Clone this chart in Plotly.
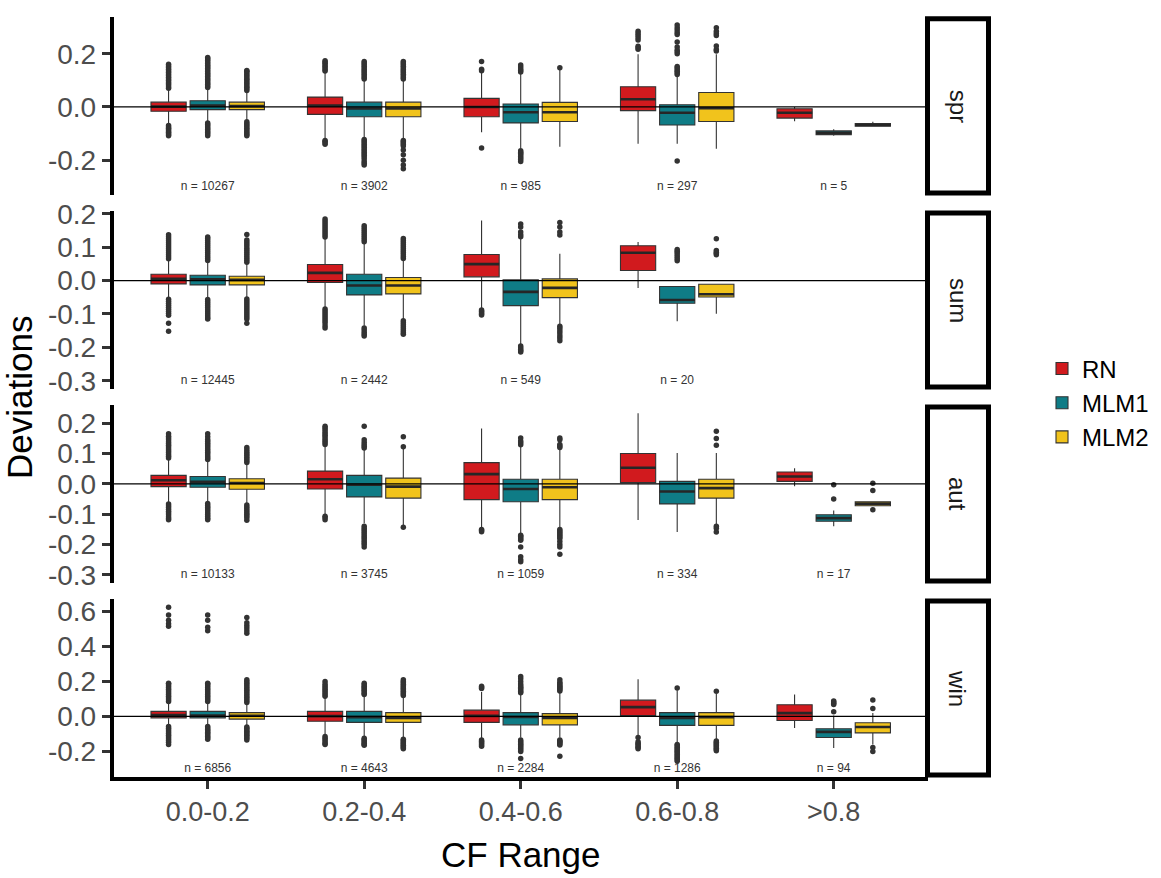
import plotly.graph_objects as go

# ---- categories -------------------------------------------------------------
CF_RANGES = ["0.0-0.2", "0.2-0.4", "0.4-0.6", "0.6-0.8", ">0.8"]
SEASONS = ["spr", "sum", "aut", "win"]
MODELS = ["RN", "MLM1", "MLM2"]
COLORS = ["#D11A1E", "#0F7C86", "#F1C31C"]

# ---- sample sizes per CF range -----------------------------------------------
N_SPR = [10267, 3902, 985, 297, 5]
N_SUM = [12445, 2442, 549, 20]
N_AUT = [10133, 3745, 1059, 334, 17]
N_WIN = [6856, 4643, 2284, 1286, 94]

# ---- box statistics (rows: RN, MLM1, MLM2) ----------------------------------
SPR_Q1 = [[-0.016, -0.028, -0.037, -0.014, -0.042],
          [-0.010, -0.037, -0.060, -0.068, -0.104],
          [-0.010, -0.037, -0.055, -0.055, -0.072]]
SPR_MED = [[0.001, 0.005, 0.000, 0.029, -0.022],
           [0.005, -0.006, -0.020, -0.022, -0.097],
           [0.003, -0.006, -0.020, -0.005, -0.068]]
SPR_Q3 = [[0.018, 0.037, 0.032, 0.076, -0.007],
          [0.023, 0.018, 0.011, 0.008, -0.090],
          [0.018, 0.018, 0.017, 0.054, -0.062]]
SPR_LO = [[-0.066, -0.120, -0.095, -0.138, -0.054],
          [-0.058, -0.115, -0.155, -0.138, -0.108],
          [-0.050, -0.118, -0.150, -0.157, -0.072]]
SPR_HI = [[0.068, 0.130, 0.131, 0.198, 0.000],
          [0.070, 0.100, 0.125, 0.119, -0.084],
          [0.060, 0.100, 0.143, 0.198, -0.056]]

SUM_Q1 = [[-0.010, -0.006, 0.011, 0.030],
          [-0.013, -0.043, -0.075, -0.068],
          [-0.013, -0.040, -0.051, -0.049]]
SUM_MED = [[0.005, 0.023, 0.049, 0.083],
           [0.004, -0.015, -0.034, -0.058],
           [0.002, -0.015, -0.022, -0.041]]
SUM_Q3 = [[0.019, 0.048, 0.078, 0.104],
          [0.016, 0.019, 0.002, -0.018],
          [0.013, 0.009, 0.005, -0.011]]
SUM_LO = [[-0.053, -0.080, -0.085, -0.022],
          [-0.055, -0.135, -0.190, -0.122],
          [-0.052, -0.115, -0.133, -0.099]]
SUM_HI = [[0.062, 0.125, 0.180, 0.115],
          [0.058, 0.110, 0.128, -0.018],
          [0.052, 0.060, 0.080, -0.011]]

AUT_Q1 = [[-0.009, -0.017, -0.052, 0.004, 0.008],
          [-0.011, -0.043, -0.059, -0.066, -0.123],
          [-0.018, -0.047, -0.052, -0.047, -0.072]]
AUT_MED = [[0.012, 0.015, 0.032, 0.053, 0.024],
           [0.007, -0.003, -0.017, -0.025, -0.113],
           [0.003, -0.009, -0.011, -0.014, -0.065]]
AUT_Q3 = [[0.028, 0.042, 0.070, 0.100, 0.039],
          [0.024, 0.028, 0.015, 0.008, -0.102],
          [0.017, 0.019, 0.015, 0.015, -0.059]]
AUT_LO = [[-0.062, -0.104, -0.145, -0.119, -0.008],
          [-0.062, -0.130, -0.163, -0.159, -0.140],
          [-0.068, -0.140, -0.148, -0.137, -0.072]]
AUT_HI = [[0.080, 0.128, 0.182, 0.233, 0.051],
          [0.076, 0.115, 0.128, 0.102, -0.088],
          [0.068, 0.118, 0.115, 0.102, -0.059]]

WIN_Q1 = [[-0.008, -0.027, -0.034, 0.005, -0.023],
          [-0.008, -0.034, -0.048, -0.051, -0.120],
          [-0.015, -0.034, -0.048, -0.051, -0.094]]
WIN_MED = [[0.008, 0.002, 0.003, 0.053, 0.019],
           [0.005, -0.004, -0.003, -0.008, -0.088],
           [0.004, -0.008, -0.008, -0.004, -0.060]]
WIN_Q3 = [[0.029, 0.029, 0.036, 0.093, 0.067],
          [0.029, 0.029, 0.022, 0.022, -0.070],
          [0.022, 0.022, 0.016, 0.022, -0.036]]
WIN_LO = [[-0.050, -0.110, -0.130, -0.110, -0.066],
          [-0.050, -0.120, -0.120, -0.150, -0.180],
          [-0.055, -0.120, -0.120, -0.130, -0.160]]
WIN_HI = [[0.080, 0.110, 0.140, 0.213, 0.126],
          [0.080, 0.120, 0.130, 0.150, 0.005],
          [0.075, 0.110, 0.140, 0.130, 0.020]]

# ---- outlying observations, one list per CF range ---------------------------
SPR_OUT_RN = [
    [0.07, 0.076, 0.082, 0.088, 0.094, 0.1, 0.106, 0.112, 0.118, 0.124, 0.13, 0.136, 0.142, 0.148, 0.154, 0.16,
     -0.07, -0.075, -0.08, -0.085, -0.09, -0.095, -0.1, -0.105, -0.108],
    [0.135, 0.14, 0.146, 0.152, 0.158, 0.164, 0.169, 0.174, -0.126, -0.13, -0.135, -0.14],
    [0.136, 0.142, 0.171, -0.154],
    [0.217, 0.222, 0.228, 0.252, 0.26, 0.268, 0.276, 0.284],
    []]
SPR_OUT_MLM1 = [
    [0.073, 0.079, 0.085, 0.091, 0.097, 0.103, 0.109, 0.115, 0.121, 0.127, 0.133, 0.139, 0.145, 0.151, 0.157,
     0.163, 0.169, 0.175, 0.181, 0.186,
     -0.06, -0.066, -0.072, -0.078, -0.084, -0.09, -0.096, -0.102, -0.108],
    [0.105, 0.111, 0.117, 0.123, 0.129, 0.135, 0.141, 0.147, 0.153, 0.159, 0.165, 0.171,
     -0.122, -0.128, -0.134, -0.14, -0.146, -0.152, -0.158, -0.164, -0.17, -0.176, -0.182, -0.188, -0.196,
     -0.205, -0.212, -0.218],
    [0.131, 0.137, 0.143, 0.15, 0.158, -0.165, -0.17, -0.175, -0.18, -0.186, -0.192, -0.198, -0.205],
    [0.122, 0.128, 0.134, 0.14, 0.146, 0.152, 0.2, 0.207, 0.214, 0.225, 0.244, 0.272, 0.28, 0.289, 0.298,
     0.308, -0.203],
    []]
SPR_OUT_MLM2 = [
    [0.062, 0.068, 0.074, 0.08, 0.086, 0.092, 0.098, 0.104, 0.11, 0.116, 0.122, 0.128, 0.134, 0.137,
     -0.056, -0.062, -0.068, -0.074, -0.08, -0.086, -0.092, -0.098, -0.104, -0.108],
    [0.105, 0.111, 0.117, 0.123, 0.129, 0.135, 0.141, 0.147, 0.153, 0.159, 0.165, 0.171,
     -0.126, -0.131, -0.136, -0.141, -0.147, -0.162, -0.18, -0.2, -0.218, -0.232],
    [0.147],
    [0.21, 0.216, 0.229, 0.268, 0.276, 0.284, 0.298],
    []]

SUM_OUT_RN = [
    [0.065, 0.071, 0.077, 0.083, 0.089, 0.095, 0.101, 0.107, 0.113, 0.119, 0.125, 0.131, 0.137,
     -0.056, -0.062, -0.068, -0.074, -0.08, -0.086, -0.092, -0.098, -0.104, -0.128, -0.152],
    [0.13, 0.136, 0.142, 0.148, 0.154, 0.16, 0.166, 0.172, 0.178, 0.184,
     -0.085, -0.091, -0.097, -0.103, -0.109, -0.115, -0.121, -0.127, -0.135, -0.142],
    [-0.088, -0.092, -0.096, -0.1, -0.103],
    []]
SUM_OUT_MLM1 = [
    [0.06, 0.066, 0.072, 0.078, 0.084, 0.09, 0.096, 0.102, 0.108, 0.114, 0.12, 0.126, 0.13,
     -0.057, -0.063, -0.069, -0.075, -0.081, -0.087, -0.093, -0.099, -0.105, -0.111, -0.115],
    [0.116, 0.122, 0.128, 0.134, 0.14, 0.146, 0.152, 0.158, 0.164, -0.142, -0.148, -0.155, -0.161, -0.166],
    [0.131, 0.137, 0.145, 0.16, 0.169, -0.196, -0.201, -0.206, -0.21, -0.214],
    [0.059, 0.065, 0.071, 0.077, 0.083, 0.088, 0.093]]
SUM_OUT_MLM2 = [
    [0.055, 0.061, 0.067, 0.073, 0.079, 0.085, 0.091, 0.097, 0.103, 0.109, 0.115, 0.121, 0.138,
     -0.055, -0.061, -0.067, -0.073, -0.079, -0.085, -0.091, -0.097, -0.103, -0.109, -0.115, -0.128],
    [0.066, 0.072, 0.078, 0.084, 0.09, 0.096, 0.102, 0.108, 0.114, 0.12, 0.126,
     -0.12, -0.126, -0.132, -0.138, -0.144, -0.15, -0.156, -0.161],
    [0.136, 0.145, 0.16, 0.174, -0.137, -0.143, -0.15, -0.157, -0.165, -0.172, -0.18],
    [0.077, 0.081, 0.085, 0.09, 0.125]]

AUT_OUT_RN = [
    [0.085, 0.091, 0.097, 0.103, 0.109, 0.115, 0.121, 0.127, 0.133, 0.139, 0.145, 0.151, 0.157, 0.165,
     -0.066, -0.072, -0.078, -0.084, -0.09, -0.096, -0.102, -0.108, -0.114, -0.118],
    [0.13, 0.136, 0.142, 0.148, 0.154, 0.16, 0.166, 0.172, 0.178, 0.184, 0.19, -0.107, -0.112, -0.118],
    [-0.15, -0.154, -0.158],
    [],
    []]
AUT_OUT_MLM1 = [
    [0.08, 0.086, 0.092, 0.098, 0.104, 0.11, 0.116, 0.122, 0.128, 0.134, 0.14, 0.146, 0.155, 0.165,
     -0.065, -0.071, -0.077, -0.083, -0.089, -0.095, -0.101, -0.107, -0.113, -0.118],
    [0.118, 0.124, 0.13, 0.137, 0.145, 0.19,
     -0.14, -0.146, -0.152, -0.158, -0.164, -0.17, -0.176, -0.182, -0.188, -0.194, -0.2, -0.208],
    [0.129, 0.135, 0.141, 0.151, -0.169, -0.173, -0.178, -0.182, -0.186, -0.208, -0.24, -0.25, -0.257],
    [],
    [-0.003, -0.05]]
AUT_OUT_MLM2 = [
    [0.07, 0.076, 0.082, 0.088, 0.094, 0.1, 0.106, 0.112, 0.12,
     -0.07, -0.076, -0.082, -0.088, -0.094, -0.1, -0.106, -0.112, -0.12],
    [0.122, 0.155, -0.143],
    [0.12, 0.125, 0.13, 0.145, 0.151,
     -0.15, -0.155, -0.16, -0.165, -0.17, -0.175, -0.18, -0.19, -0.2, -0.208, -0.232],
    [0.127, 0.149, 0.173, -0.14, -0.146, -0.159],
    [0.002, -0.022, -0.085]]

WIN_OUT_RN = [
    [0.085, 0.095, 0.105, 0.115, 0.125, 0.135, 0.145, 0.155, 0.165, 0.175, 0.185, 0.19,
     0.515, 0.53, 0.55, 0.58, 0.624,
     -0.058, -0.068, -0.078, -0.088, -0.098, -0.108, -0.118, -0.128, -0.138, -0.148, -0.16],
    [0.115, 0.125, 0.135, 0.145, 0.155, 0.165, 0.175, 0.185, 0.2,
     -0.115, -0.125, -0.135, -0.145, -0.155, -0.16],
    [0.16, 0.165, 0.172, -0.135, -0.142, -0.149, -0.156, -0.163, -0.17],
    [-0.12, -0.145, -0.155, -0.16, -0.17, -0.178, -0.185],
    []]
WIN_OUT_MLM1 = [
    [0.085, 0.095, 0.105, 0.115, 0.125, 0.135, 0.145, 0.155, 0.165, 0.175, 0.185, 0.19,
     0.49, 0.51, 0.55, 0.58,
     -0.058, -0.066, -0.074, -0.082, -0.09, -0.098, -0.106, -0.114, -0.122, -0.13],
    [0.125, 0.133, 0.141, 0.149, 0.157, 0.165, 0.173, 0.181, 0.19,
     -0.125, -0.132, -0.139, -0.146, -0.153, -0.16, -0.165],
    [0.135, 0.143, 0.151, 0.159, 0.167, 0.175, 0.185, 0.2, 0.215, 0.228,
     -0.135, -0.143, -0.151, -0.159, -0.167, -0.175, -0.183, -0.191, -0.2, -0.24],
    [0.162, -0.16, -0.168, -0.176, -0.184, -0.192, -0.2, -0.208, -0.216, -0.224, -0.232, -0.24, -0.248, -0.256],
    [0.027, 0.068, 0.075, 0.082, 0.088]]
WIN_OUT_MLM2 = [
    [0.08, 0.09, 0.1, 0.11, 0.12, 0.13, 0.14, 0.15, 0.16, 0.17, 0.18, 0.19, 0.2, 0.21,
     0.475, 0.49, 0.505, 0.52, 0.535, 0.565,
     -0.06, -0.068, -0.076, -0.084, -0.092, -0.1, -0.108, -0.116, -0.124, -0.135],
    [0.12, 0.128, 0.136, 0.144, 0.152, 0.16, 0.168, 0.176, 0.184, 0.192, 0.2, 0.21,
     -0.13, -0.137, -0.144, -0.151, -0.158, -0.165, -0.172, -0.179, -0.185],
    [0.145, 0.152, 0.159, 0.166, 0.173, 0.18, 0.187, 0.195, 0.209,
     -0.135, -0.14, -0.145, -0.15, -0.158, -0.163, -0.227],
    [0.144, -0.14, -0.147, -0.154, -0.161, -0.168, -0.175, -0.182, -0.189, -0.196],
    [0.046, 0.094, -0.177, -0.2]]

# ---- y-axis ticks per panel --------------------------------------------------
SPR_TICKS = [-0.2, 0.0, 0.2]
SUM_TICKS = [-0.3, -0.2, -0.1, 0.0, 0.1, 0.2]
AUT_TICKS = [-0.3, -0.2, -0.1, 0.0, 0.1, 0.2]
WIN_TICKS = [-0.2, 0.0, 0.2, 0.4, 0.6]

N_LABEL_Y = -0.3  # height of the "n = ..." annotations in each panel

PANELS = [
    (N_SPR, SPR_Q1, SPR_MED, SPR_Q3, SPR_LO, SPR_HI, [SPR_OUT_RN, SPR_OUT_MLM1, SPR_OUT_MLM2], SPR_TICKS),
    (N_SUM, SUM_Q1, SUM_MED, SUM_Q3, SUM_LO, SUM_HI, [SUM_OUT_RN, SUM_OUT_MLM1, SUM_OUT_MLM2], SUM_TICKS),
    (N_AUT, AUT_Q1, AUT_MED, AUT_Q3, AUT_LO, AUT_HI, [AUT_OUT_RN, AUT_OUT_MLM1, AUT_OUT_MLM2], AUT_TICKS),
    (N_WIN, WIN_Q1, WIN_MED, WIN_Q3, WIN_LO, WIN_HI, [WIN_OUT_RN, WIN_OUT_MLM1, WIN_OUT_MLM2], WIN_TICKS),
]

# ---- page geometry (pixels) --------------------------------------------------
W, H = 1161, 878
PLOT_L, PLOT_R = 113.8, 927.6
PANEL_TOP, PANEL_H, PANEL_GAP = 5.0, 182.1, 16.5
STRIP_L, STRIP_R = 927.5, 988.5
DODGE, BOX_W = 0.25, 0.225
FONT = "Liberation Sans, Arial, sans-serif"
INK = "#333333"


def fmt(v):
    return f"{v:.1f}".replace("-0.0", "0.0")


fig = go.Figure()
shapes, annotations = [], []

for k, (n_counts, q1, med, q3, lo, hi, outs, ticks) in enumerate(PANELS):
    sfx = "" if k == 0 else str(k + 1)
    xa, ya = "x" + sfx, "y" + sfx
    ngroups = len(n_counts)
    all_vals = [N_LABEL_Y]

    for j, model in enumerate(MODELS):
        pos = [g + (j - 1) * DODGE for g in range(ngroups)]
        fig.add_trace(go.Box(
            x=pos, q1=q1[j], median=med[j], q3=q3[j],
            lowerfence=lo[j], upperfence=hi[j],
            width=BOX_W, whiskerwidth=0, boxpoints=False,
            fillcolor=COLORS[j], line=dict(color=INK, width=1.1),
            name=model, legendgroup=model, showlegend=(k == 0),
            xaxis=xa, yaxis=ya, hoverinfo="skip",
        ))
        # thicker median bar
        mx, my = [], []
        for p, m in zip(pos, med[j]):
            mx += [p - BOX_W / 2, p + BOX_W / 2, None]
            my += [m, m, None]
        fig.add_trace(go.Scatter(
            x=mx, y=my, mode="lines", line=dict(color="#262626", width=2.6),
            showlegend=False, xaxis=xa, yaxis=ya, hoverinfo="skip",
        ))
        # outliers
        ox, oy = [], []
        for p, pts in zip(pos, outs[j]):
            ox += [p] * len(pts)
            oy += pts
        fig.add_trace(go.Scatter(
            x=ox, y=oy, mode="markers",
            marker=dict(color=INK, size=5.5, line=dict(width=0)),
            showlegend=False, xaxis=xa, yaxis=ya, hoverinfo="skip",
        ))
        all_vals += lo[j] + hi[j] + [v for pts in outs[j] for v in pts]

    # sample size labels
    fig.add_trace(go.Scatter(
        x=list(range(ngroups)), y=[N_LABEL_Y] * ngroups, mode="text",
        text=[f"n = {n}" for n in n_counts],
        textfont=dict(family=FONT, size=12, color="#333333"),
        showlegend=False, xaxis=xa, yaxis=ya, hoverinfo="skip",
    ))

    vmin, vmax = min(all_vals), max(all_vals)
    pad = 0.05 * (vmax - vmin)

    top = PANEL_TOP + k * (PANEL_H + PANEL_GAP)
    bot = top + PANEL_H
    dom = [1 - bot / H, 1 - top / H]
    last = k == len(PANELS) - 1

    fig.layout["xaxis" + sfx] = dict(
        domain=[PLOT_L / W, PLOT_R / W], range=[-0.6, 4.6], anchor=ya,
        showgrid=False, zeroline=False,
        showline=last, linecolor="black", linewidth=4,
        tickmode="array", tickvals=list(range(len(CF_RANGES))), ticktext=CF_RANGES,
        showticklabels=last, ticks="outside" if last else "",
        ticklen=8, tickwidth=3, tickcolor=INK,
        tickfont=dict(family=FONT, size=27, color="#4D4D4D"),
        **({} if k == 0 else {"matches": "x"}),
    )
    fig.layout["yaxis" + sfx] = dict(
        domain=dom, range=[vmin - pad, vmax + pad], anchor=xa,
        showgrid=False, zeroline=False,
        showline=True, linecolor="black", linewidth=4,
        tickmode="array", tickvals=ticks, ticktext=[fmt(t) for t in ticks],
        ticks="outside", ticklen=8, tickwidth=3, tickcolor=INK,
        tickfont=dict(family=FONT, size=28, color="#4D4D4D"),
    )

    # reference line at zero
    shapes.append(dict(type="line", xref=xa + " domain", yref=ya, x0=0, x1=1, y0=0, y1=0,
                       line=dict(color="black", width=1.2), layer="above"))
    # facet strip
    shapes.append(dict(type="rect", xref="paper", yref="paper",
                       x0=STRIP_L / W, x1=STRIP_R / W, y0=dom[0] + 2 / H, y1=dom[1] - 2 / H,
                       line=dict(color="black", width=5), fillcolor="white", layer="above"))
    annotations.append(dict(text=SEASONS[k], xref="paper", yref="paper",
                            x=(STRIP_L + STRIP_R) / 2 / W, y=(dom[0] + dom[1]) / 2,
                            xanchor="center", yanchor="middle",
                            textangle=90, showarrow=False,
                            font=dict(family=FONT, size=24, color="#1A1A1A")))

annotations.append(dict(text="Deviations", xref="paper", yref="paper", x=19 / W, y=1 - 395 / H,
                        xanchor="center", yanchor="middle",
                        textangle=-90, showarrow=False, font=dict(family=FONT, size=35, color="black")))
annotations.append(dict(text="CF Range", xref="paper", yref="paper", x=(PLOT_L + PLOT_R) / 2 / W,
                        y=1 - 862 / H, xanchor="center", yanchor="middle",
                        showarrow=False, font=dict(family=FONT, size=35, color="black")))

fig.update_layout(
    width=W, height=H, margin=dict(l=0, r=0, t=0, b=0),
    paper_bgcolor="white", plot_bgcolor="white",
    shapes=shapes, annotations=annotations,
    legend=dict(x=1042 / W, y=1 - 400 / H, xanchor="left", yanchor="middle",
                font=dict(family=FONT, size=24, color="black"), bgcolor="rgba(0,0,0,0)",
                tracegroupgap=0, itemwidth=30),
    showlegend=True,
)

fig.write_html("out.html")
